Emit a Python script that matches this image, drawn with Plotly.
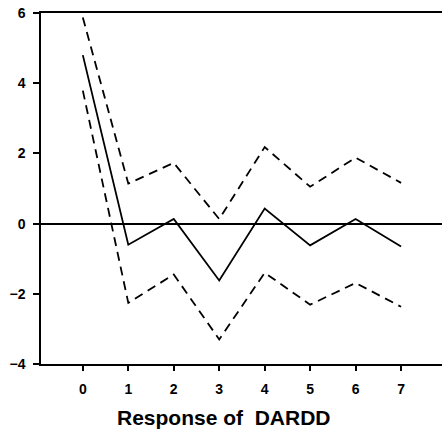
import plotly.graph_objects as go

steps = [0, 1, 2, 3, 4, 5, 6, 7]
response = [4.8, -0.6, 0.13, -1.62, 0.43, -0.62, 0.13, -0.65]
upper = [5.87, 1.14, 1.73, 0.13, 2.18, 1.05, 1.88, 1.16]
lower = [3.79, -2.26, -1.45, -3.3, -1.4, -2.31, -1.69, -2.37]
y_ticks = [6, 4, 2, 0, -2, -4]
title = "Response of  DARDD"

FONT = "Liberation Sans, Arial"

fig = go.Figure()
fig.add_trace(go.Scatter(x=steps, y=upper, mode="lines",
                         line=dict(color="black", width=1.8, dash="9px,6px")))
fig.add_trace(go.Scatter(x=steps, y=lower, mode="lines",
                         line=dict(color="black", width=1.8, dash="9px,6px")))
fig.add_trace(go.Scatter(x=steps, y=response, mode="lines",
                         line=dict(color="black", width=1.8)))

fig.add_annotation(text=title, xref="paper", yref="paper", x=0.456, y=-0.152,
                   xanchor="center", yanchor="middle", showarrow=False,
                   font=dict(size=21, family=FONT, weight="bold", color="black"))

fig.update_layout(
    width=442, height=434,
    margin=dict(l=41, r=0, t=13, b=70),
    paper_bgcolor="white", plot_bgcolor="white",
    showlegend=False,
    font=dict(family=FONT, color="black"),
    xaxis=dict(range=[-0.92, 7.9], tickvals=steps, ticks="outside",
               ticklen=5, tickwidth=1.5, tickcolor="black",
               showline=True, linecolor="black", linewidth=1.5, mirror=True,
               showgrid=False, zeroline=False, ticklabelstandoff=6,
               tickfont=dict(size=14, family=FONT, weight="bold")),
    yaxis=dict(range=[-4, 6], tickvals=y_ticks, ticks="outside",
               ticklen=6, tickwidth=1.5, tickcolor="black",
               showline=True, linecolor="black", linewidth=1.5, mirror=False,
               showgrid=False, zeroline=True, zerolinecolor="black", zerolinewidth=2,
               ticklabelstandoff=5,
               tickfont=dict(size=14, family=FONT, weight="bold")),
)

fig.write_html("out.html")
